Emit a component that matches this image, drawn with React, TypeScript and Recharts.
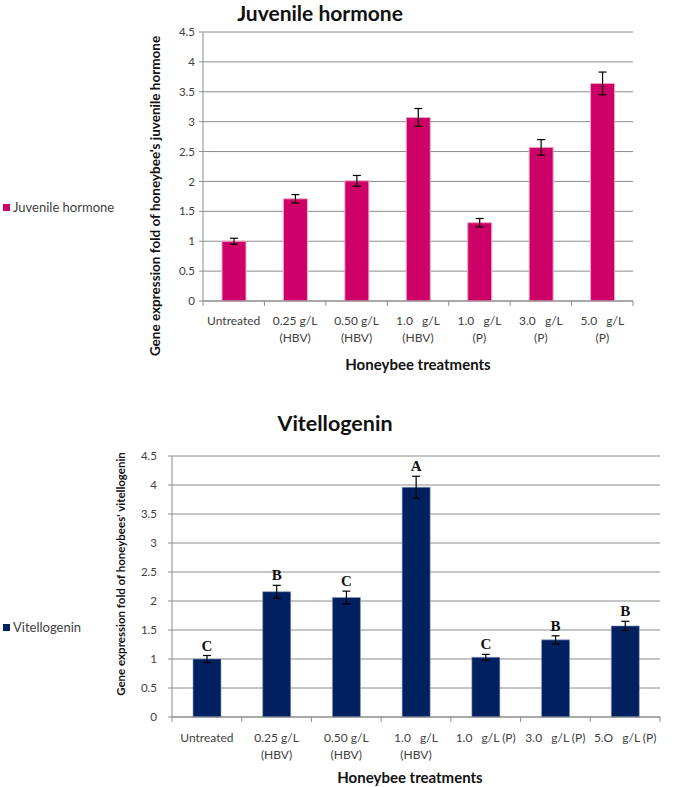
import React from 'react';
import { BarChart, Bar, XAxis, YAxis, CartesianGrid, ErrorBar, LabelList } from 'recharts';

const jhCategories = ['Untreated', '0.25 HBV', '0.50 HBV', '1.0 HBV', '1.0 P', '3.0 P', '5.0 P'];
const jhTickLines = [
  ['Untreated'],
  ['0.25 g/L', '(HBV)'],
  ['0.50 g/L', '(HBV)'],
  ['1.0   g/L', '(HBV)'],
  ['1.0   g/L', '(P)'],
  ['3.0   g/L', '(P)'],
  ['5.0   g/L', '(P)'],
];
const jhMean = [1.0, 1.71, 2.01, 3.07, 1.31, 2.57, 3.64];
const jhErr = [0.05, 0.07, 0.09, 0.15, 0.07, 0.13, 0.19];

const vgCategories = ['Untreated', '0.25 HBV', '0.50 HBV', '1.0 HBV', '1.0 P', '3.0 P', '5.0 P'];
const vgTickLines = [
  ['Untreated'],
  ['0.25 g/L', '(HBV)'],
  ['0.50 g/L', '(HBV)'],
  ['1.0   g/L', '(HBV)'],
  ['1.0   g/L (P)'],
  ['3.0   g/L (P)'],
  ['5.O   g/L (P)'],
];
const vgMean = [1.0, 2.16, 2.06, 3.96, 1.03, 1.33, 1.57];
const vgErr = [0.06, 0.11, 0.11, 0.19, 0.05, 0.07, 0.08];
const vgLetters = ['C', 'B', 'C', 'A', 'C', 'B', 'B'];

const yTicks = [0, 0.5, 1, 1.5, 2, 2.5, 3, 3.5, 4, 4.5];

const jhData = jhCategories.map((name, i) => ({ name, value: jhMean[i], err: jhErr[i] }));
const vgData = vgCategories.map((name, i) => ({ name, value: vgMean[i], err: vgErr[i], letter: vgLetters[i] }));

const FONT = 'Lato, "Open Sans", sans-serif';
const GRID = '#8c8c8c';
const TEXT = '#404040';

const makeTick = (lines: string[][], band: number, dy1: number, lh: number) => (props: any) => {
  const { x, y, index } = props;
  const last = index === lines.length - 1;
  return (
    <g>
      <line x1={x - band / 2} x2={x - band / 2} y1={y} y2={y + 5} stroke={GRID} />
      {last && <line x1={x + band / 2} x2={x + band / 2} y1={y} y2={y + 5} stroke={GRID} />}
      {(lines[index] || []).map((l, i) => (
        <text
          key={i}
          x={x}
          y={y + dy1 + i * lh}
          textAnchor="middle"
          dominantBaseline="central"
          fontSize={12}
          fontFamily={FONT}
          fill={TEXT}
          style={{ whiteSpace: 'pre' }}
        >
          {l}
        </text>
      ))}
    </g>
  );
};

const LetterLabel = (props: any) => {
  const { x, y, width, height, index, value } = props;
  const perUnit = height / vgMean[index];
  const errTop = y - vgErr[index] * perUnit;
  return (
    <text
      x={x + width / 2}
      y={errTop - 5}
      textAnchor="middle"
      fontSize={15}
      fontWeight="bold"
      fontFamily='"Liberation Serif", "Times New Roman", serif'
      fill="#111"
    >
      {value}
    </text>
  );
};

const abs = (style: React.CSSProperties): React.CSSProperties => ({ position: 'absolute', ...style });
const centered = (left: number, top: number, extra: React.CSSProperties): React.CSSProperties =>
  abs({ left, top, transform: 'translate(-50%, -50%)', whiteSpace: 'nowrap', lineHeight: 1.15, color: '#111', ...extra });
const rotated = (left: number, top: number, extra: React.CSSProperties): React.CSSProperties =>
  abs({ left, top, transform: 'translate(-50%, -50%) rotate(-90deg)', whiteSpace: 'nowrap', lineHeight: 1, color: '#111', fontWeight: 'bold', ...extra });

export default function App() {
  // chart 1 plot: x 203..633, y 32..301
  const jhBand = (633 - 203) / jhCategories.length;
  // chart 2 plot: x 172..660, y 456..717
  const vgBand = (660 - 172) / vgCategories.length;

  return (
    <div style={{ position: 'absolute', left: 0, top: 0, width: 685, height: 787, background: '#fff', fontFamily: FONT }}>
      {/* Juvenile hormone */}
      <div style={abs({ left: 0, top: 0 })}>
        <BarChart width={685} height={400} data={jhData} margin={{ top: 32, right: 52, bottom: 69, left: 158 }}>
          <CartesianGrid vertical={false} stroke={GRID} strokeWidth={1} />
          <XAxis
            dataKey="name"
            interval={0}
            height={30}
            tickLine={false}
            tickSize={0}
            tickMargin={0}
            axisLine={{ stroke: GRID }}
            tick={makeTick(jhTickLines, jhBand, 19, 17)}
          />
          <YAxis
            width={45}
            domain={[0, 4.5]}
            ticks={yTicks}
            interval={0}
            tickSize={4}
            tickMargin={4}
            axisLine={{ stroke: GRID }}
            tickLine={{ stroke: GRID }}
            tick={{ fontSize: 11.5, fontFamily: FONT, fill: TEXT }}
          />
          <Bar dataKey="value" fill="#CC0066" stroke="#f0a8c8" strokeWidth={1} barSize={24} isAnimationActive={false}>
            <ErrorBar dataKey="err" width={4} stroke="#000" strokeWidth={1.2} direction="y" />
          </Bar>
        </BarChart>
      </div>
      <div style={centered(320, 13, { fontSize: 21, fontWeight: 'bold' })}>Juvenile hormone</div>
      <div style={rotated(156, 196, { fontSize: 13.5 })}>Gene expression fold of honeybee's juvenile hormone</div>
      <div style={centered(418, 365, { fontSize: 15, fontWeight: 'bold' })}>Honeybee treatments</div>
      <div style={abs({ left: 3, top: 199, display: 'flex', alignItems: 'center', fontSize: 13, color: TEXT })}>
        <span style={{ width: 7, height: 7, background: '#CC0066', display: 'inline-block', marginRight: 3 }} />
        Juvenile hormone
      </div>

      {/* Vitellogenin */}
      <div style={abs({ left: 0, top: 400 })}>
        <BarChart width={685} height={387} data={vgData} margin={{ top: 56, right: 25, bottom: 40, left: 132 }}>
          <CartesianGrid vertical={false} stroke={GRID} strokeWidth={1} />
          <XAxis
            dataKey="name"
            interval={0}
            height={30}
            tickLine={false}
            tickSize={0}
            tickMargin={0}
            axisLine={{ stroke: GRID }}
            tick={makeTick(vgTickLines, vgBand, 20, 17)}
          />
          <YAxis
            width={40}
            domain={[0, 4.5]}
            ticks={yTicks}
            interval={0}
            tickSize={4}
            tickMargin={11}
            axisLine={{ stroke: GRID }}
            tickLine={{ stroke: GRID }}
            tick={{ fontSize: 11.5, fontFamily: FONT, fill: TEXT }}
          />
          <Bar dataKey="value" fill="#00205F" stroke="#8a9ac0" strokeWidth={0.6} barSize={28} isAnimationActive={false}>
            <ErrorBar dataKey="err" width={4} stroke="#000" strokeWidth={1.2} direction="y" />
            <LabelList dataKey="letter" content={LetterLabel} />
          </Bar>
        </BarChart>
      </div>
      <div style={centered(335, 423, { fontSize: 21.5, fontWeight: 'bold' })}>Vitellogenin</div>
      <div style={rotated(121, 574, { fontSize: 11.5 })}>Gene expression fold of honeybees' vitellogenin</div>
      <div style={centered(410, 778, { fontSize: 15, fontWeight: 'bold' })}>Honeybee treatments</div>
      <div style={abs({ left: 3, top: 619, display: 'flex', alignItems: 'center', fontSize: 13, color: TEXT })}>
        <span style={{ width: 7, height: 7, background: '#00205F', display: 'inline-block', marginRight: 3 }} />
        Vitellogenin
      </div>
    </div>
  );
}
